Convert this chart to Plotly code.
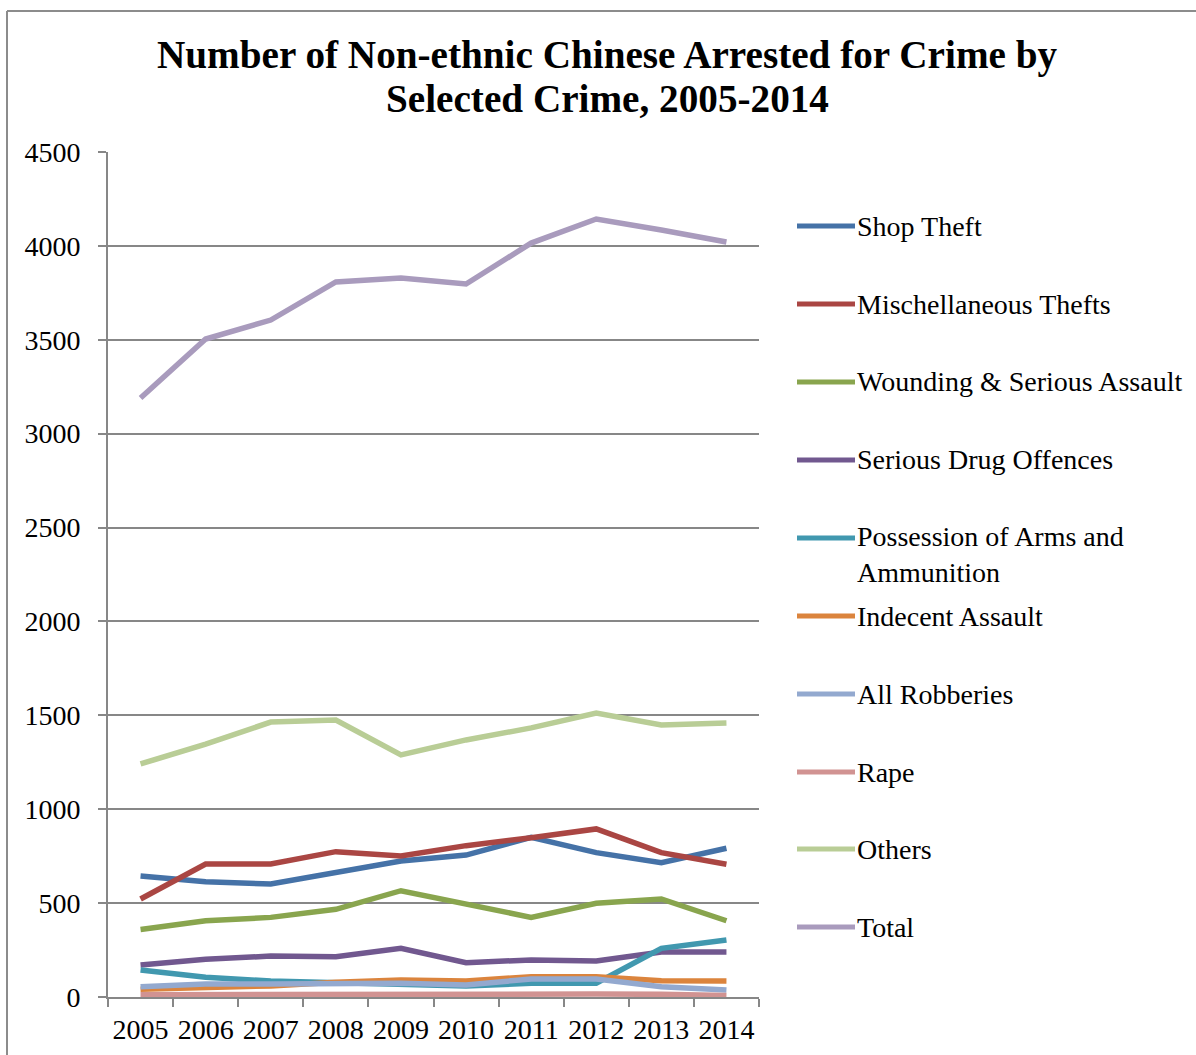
import plotly.graph_objects as go

# Annual arrests of non-ethnic Chinese persons, by selected crime
years = ["2005", "2006", "2007", "2008", "2009", "2010", "2011", "2012", "2013", "2014"]

shop_theft = [644, 614, 602, 662, 724, 756, 850, 769, 715, 792]
misc_thefts = [522, 708, 708, 774, 751, 806, 848, 895, 769, 707]
wounding = [360, 406, 424, 467, 566, 494, 424, 499, 522, 406]
drug_offences = [170, 201, 218, 215, 259, 183, 197, 192, 240, 240]
arms_ammunition = [144, 105, 85, 76, 73, 59, 73, 73, 259, 304]
indecent_assault = [41, 50, 59, 78, 90, 85, 108, 108, 87, 85]
robberies = [55, 69, 69, 69, 73, 64, 96, 96, 55, 37]
rape = [12, 13, 14, 15, 18, 16, 15, 16, 14, 8]
others = [1241, 1347, 1464, 1475, 1289, 1369, 1433, 1512, 1449, 1459]
total = [3190, 3504, 3605, 3808, 3829, 3797, 4015, 4143, 4085, 4021]

series_names = [
    "Shop Theft",
    "Mischellaneous Thefts",
    "Wounding & Serious Assault",
    "Serious Drug Offences",
    "Possession of Arms and<br>Ammunition",
    "Indecent Assault",
    "All Robberies",
    "Rape",
    "Others",
    "Total",
]
series_values = [
    shop_theft, misc_thefts, wounding, drug_offences, arms_ammunition,
    indecent_assault, robberies, rape, others, total,
]
series_colors = [
    "#4572A7", "#AA4643", "#89A54E", "#71588F", "#4198AF",
    "#DB843D", "#93A9CF", "#D19392", "#B9CD96", "#A99BBD",
]

y_ticks = [0, 500, 1000, 1500, 2000, 2500, 3000, 3500, 4000, 4500]

title_lines = ["Number of Non-ethnic Chinese Arrested for Crime by", "Selected Crime, 2005-2014"]

FONT = "Liberation Serif"
GRID = "#878787"

W, H = 1196, 1055
L, R, T, B = 108, 759, 152, 997  # plot area in pixels


def px_x(x):
    return (x - L) / (R - L)


def px_y(y):
    return (B - y) / (B - T)


fig = go.Figure()
for name, vals, col in zip(series_names, series_values, series_colors):
    fig.add_trace(go.Scatter(
        x=years, y=vals, mode="lines", name=name.replace("<br>", " "),
        line=dict(color=col, width=5.5), showlegend=False,
    ))

shapes = []
annotations = []

# Hand-built legend at the right of the plot
legend_rows = [226, 304, 382, 460, 538, 616, 694, 772, 849, 927]
for name, col, yc in zip(series_names, series_colors, legend_rows):
    shapes.append(dict(
        type="line", xref="paper", yref="paper",
        x0=px_x(797), x1=px_x(855), y0=px_y(yc), y1=px_y(yc),
        line=dict(color=col, width=5),
    ))
    two_line = "<br>" in name
    annotations.append(dict(
        xref="paper", yref="paper", x=px_x(855), y=px_y(yc - 19 if two_line else yc),
        xanchor="left", yanchor="top" if two_line else "middle",
        text=name, showarrow=False, align="left",
        font=dict(family=FONT, size=28, color="#000000"),
    ))

# Chart title, one annotation per line
for line_text, yc in zip(title_lines, [55, 98]):
    annotations.append(dict(
        xref="paper", yref="paper", x=px_x(607), y=px_y(yc),
        xanchor="center", yanchor="middle", showarrow=False,
        text="<b>" + line_text + "</b>",
        font=dict(family=FONT, size=39.2, color="#000000"),
    ))

# Chart frame (left and top edges)
shapes.append(dict(
    type="line", xref="paper", yref="paper",
    x0=px_x(7), x1=px_x(W + 5), y0=px_y(11), y1=px_y(11),
    line=dict(color="#8c8c8c", width=2),
))
shapes.append(dict(
    type="line", xref="paper", yref="paper",
    x0=px_x(7), x1=px_x(7), y0=px_y(11), y1=px_y(H + 5),
    line=dict(color="#8c8c8c", width=2),
))

fig.update_layout(
    width=W, height=H,
    margin=dict(l=L, r=W - R, t=T, b=H - B, pad=0, autoexpand=False),
    paper_bgcolor="white", plot_bgcolor="white",
    font=dict(family=FONT, size=28, color="#000000"),
    shapes=shapes, annotations=annotations,
    showlegend=False,
)
fig.update_xaxes(
    type="category", range=[-0.5, len(years) - 0.5],
    tickson="boundaries", ticks="outside", ticklen=8, tickangle=0,
    tickwidth=2, tickcolor=GRID, showline=True, linecolor=GRID, linewidth=2,
    showgrid=False, tickfont=dict(family=FONT, size=28, color="#000000"),
    ticklabelstandoff=6, fixedrange=True, automargin=False,
)
fig.update_yaxes(
    range=[0, 4500], tickvals=y_ticks, ticks="outside", ticklen=8,
    tickwidth=2, tickcolor=GRID, showline=True, linecolor=GRID, linewidth=2,
    showgrid=True, gridcolor=GRID, gridwidth=2, zeroline=False,
    tickfont=dict(family=FONT, size=28, color="#000000"),
    ticklabelstandoff=12, fixedrange=True, automargin=False,
)

fig.write_html("out.html")
